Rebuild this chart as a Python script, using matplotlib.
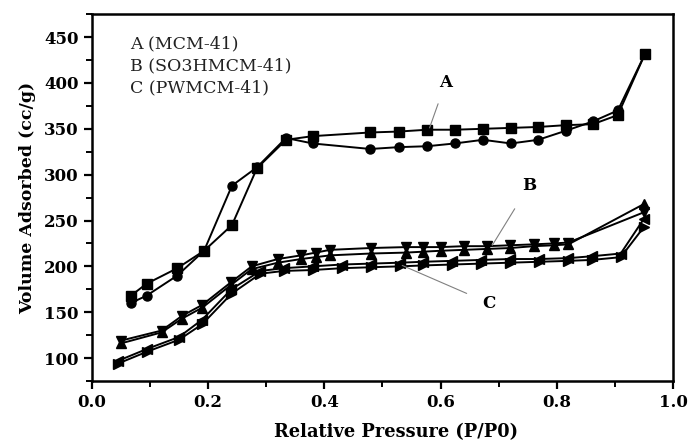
import numpy as np
import matplotlib.pyplot as plt
from matplotlib.ticker import MultipleLocator

# A (MCM-41): adsorption / desorption
a_ads_x = [0.067, 0.094, 0.147, 0.193, 0.241, 0.284, 0.334, 0.380, 0.479, 0.528, 0.577,
           0.624, 0.673, 0.721, 0.768, 0.816, 0.862, 0.905, 0.952]
a_ads_y = [168, 181, 198, 217, 245, 307, 338, 342, 346, 347, 349,
           349, 350, 351, 352, 354, 355, 365, 432]
a_des_x = [0.067, 0.094, 0.147, 0.193, 0.241, 0.284, 0.334, 0.380, 0.479, 0.528, 0.577,
           0.624, 0.673, 0.721, 0.768, 0.816, 0.862, 0.905, 0.952]
a_des_y = [160, 168, 190, 217, 288, 308, 340, 334, 328, 330, 331,
           334, 338, 334, 338, 348, 358, 370, 432]

# B (SO3HMCM-41)
b_x = [0.05, 0.12, 0.155, 0.19, 0.24, 0.275, 0.32, 0.36, 0.385, 0.41, 0.48, 0.54,
       0.57, 0.60, 0.64, 0.68, 0.72, 0.76, 0.795, 0.82, 0.95]
b_ads_y = [116, 128, 143, 155, 180, 197, 204, 208, 210, 212, 214, 215,
           216, 217, 218, 219, 220, 222, 223, 224, 268]
b_des_y = [119, 130, 146, 158, 183, 200, 208, 212, 215, 218, 220, 221,
           221, 221, 222, 222, 223, 224, 225, 226, 259]

# C (PWMCM-41)
c_x = [0.045, 0.095, 0.15, 0.19, 0.24, 0.29, 0.33, 0.38, 0.43, 0.48, 0.53, 0.57,
       0.62, 0.67, 0.72, 0.77, 0.82, 0.86, 0.91, 0.95]
c_ads_y = [94, 107, 120, 137, 170, 192, 195, 196, 198, 199, 200, 201,
           202, 203, 204, 205, 206, 207, 210, 243]
c_des_y = [97, 110, 123, 142, 175, 195, 198, 200, 202, 203, 204, 205,
           206, 207, 208, 208, 209, 211, 214, 252]

legend_lines = ['A (MCM-41)', 'B (SO3HMCM-41)', 'C (PWMCM-41)']

plt.rcParams['font.family'] = ['DejaVu Serif']

fig = plt.figure(figsize=(6.91, 4.43), dpi=100)
ax = fig.add_axes([0.133, 0.14, 0.841, 0.828])

kw = dict(color='black', linewidth=1.4, markersize=6.5)
ax.plot(a_ads_x, a_ads_y, marker='s', **kw)
ax.plot(a_des_x, a_des_y, marker='o', **kw)
ax.plot(b_x, b_ads_y, marker='^', **kw)
ax.plot(b_x, b_des_y, marker='v', **kw)
ax.plot(c_x, c_ads_y, marker='>', **kw)
ax.plot(c_x, c_des_y, marker='<', **kw)

# 曲线标注
ax.annotate('A', xy=(0.581, 351), xytext=(0.609, 401), ha='center', va='center',
            fontsize=12, fontweight='bold',
            arrowprops=dict(arrowstyle='-', color='gray', lw=0.8, shrinkA=8, shrinkB=0))
ax.annotate('B', xy=(0.689, 223), xytext=(0.752, 288), ha='center', va='center',
            fontsize=12, fontweight='bold',
            arrowprops=dict(arrowstyle='-', color='gray', lw=0.8, shrinkA=10, shrinkB=0))
ax.annotate('C', xy=(0.534, 201), xytext=(0.683, 160), ha='center', va='center',
            fontsize=12, fontweight='bold',
            arrowprops=dict(arrowstyle='-', color='gray', lw=0.8, shrinkA=10, shrinkB=0))

for i, t in enumerate(legend_lines):
    ax.text(0.066, 443 - i * 24, t, fontsize=12.5, color='#222222', va='center')

ax.set_xlim(0, 1.0)
ax.set_ylim(75, 475)
ax.xaxis.set_major_locator(MultipleLocator(0.2))
ax.xaxis.set_minor_locator(MultipleLocator(0.1))
ax.yaxis.set_major_locator(MultipleLocator(50))
ax.yaxis.set_minor_locator(MultipleLocator(25))
ax.set_yticks(np.arange(100, 451, 50))
ax.xaxis.set_major_formatter(plt.FormatStrFormatter('%.1f'))
ax.tick_params(which='major', direction='out', length=6, width=1.6, labelsize=12)
ax.tick_params(which='minor', direction='out', length=4, width=1.4)
for lab in ax.get_xticklabels() + ax.get_yticklabels():
    lab.set_fontweight('bold')
for s in ax.spines.values():
    s.set_linewidth(1.8)

ax.set_xlabel('Relative Pressure (P/P0)', fontsize=12.8, fontweight='bold')
ax.xaxis.set_label_coords(0.523, -0.138)
ax.xaxis.label.set_va('center')
ax.set_ylabel('Volume Adsorbed (cc/g)', fontsize=12.5, fontweight='bold', labelpad=6)

fig.savefig('out.png', dpi=100)
